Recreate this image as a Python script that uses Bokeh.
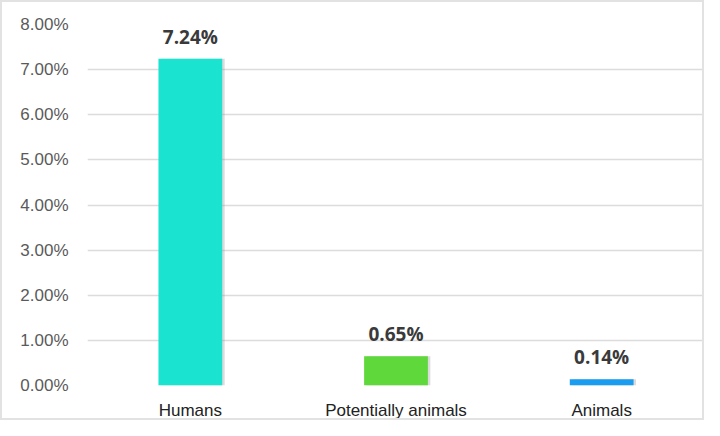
from bokeh.plotting import figure
from bokeh.models import ColumnDataSource, FixedTicker, PrintfTickFormatter, Range1d
from bokeh.transform import dodge
from bokeh.core.properties import value
from bokeh.embed import file_html
from bokeh.resources import INLINE

categories = ["Humans", "Potentially animals", "Animals"]
values = [7.24, 0.65, 0.14]
colors = ["#1ae4d0", "#5ed83a", "#1a9cf0"]
y_ticks = [0, 1, 2, 3, 4, 5, 6, 7, 8]

labels = [f"{v:.2f}%" for v in values]
src = ColumnDataSource(dict(cat=categories, val=values, color=colors, label=labels))

p = figure(x_range=categories, y_range=Range1d(0, 8), width=704, height=420,
           output_backend="svg", toolbar_location=None,
           min_border_left=85, min_border_right=2, min_border_top=22, min_border_bottom=28)
p.styles = {"border": "2px solid #e2e2e2", "box-sizing": "border-box"}
p.outline_line_color = None
p.background_fill_color = "white"

# subtle shadow
p.vbar(x=dodge("cat", 0.012, range=p.x_range), top="val", width=0.31, source=src,
       fill_color="#999999", fill_alpha=0.35, line_color=None)
p.vbar(x="cat", top="val", width=0.31, source=src, fill_color="color", line_color=None)

p.text(x="cat", y="val", text="label", source=src, text_align="center",
       text_baseline="bottom", y_offset=-9, text_font=value("Open Sans"),
       text_font_style="bold", text_font_size="19px", text_color="#3a3a3a")

p.yaxis.ticker = FixedTicker(ticks=y_ticks)
p.yaxis.formatter = PrintfTickFormatter(format="%.2f%%")
p.yaxis.axis_line_color = None
p.yaxis.major_tick_line_color = None
p.yaxis.minor_tick_line_color = None
p.yaxis.major_label_standoff = 13
p.yaxis.major_label_text_font = "Liberation Sans"
p.yaxis.major_label_text_font_size = "17px"
p.yaxis.major_label_text_color = "#5a5a5a"

p.xaxis.axis_line_color = None
p.xaxis.major_tick_line_color = None
p.xaxis.major_label_standoff = 9
p.xaxis.major_label_text_font = "Liberation Sans"
p.xaxis.major_label_text_font_size = "17px"
p.xaxis.major_label_text_color = "#222222"

p.xgrid.grid_line_color = None
p.ygrid.ticker = FixedTicker(ticks=y_ticks)
p.ygrid.grid_line_color = "#dcdcdc"
p.ygrid.grid_line_width = 1.5

open("out.html", "w").write(file_html(p, INLINE))
